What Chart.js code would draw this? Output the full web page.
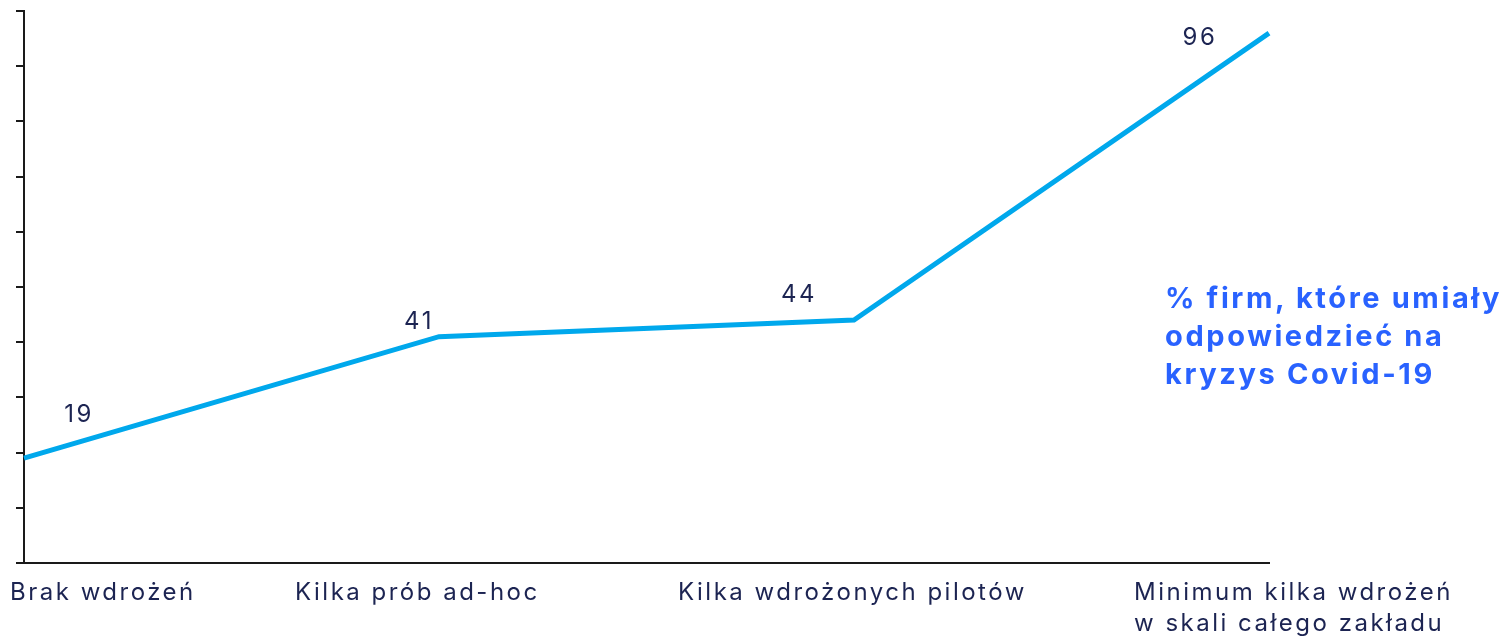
<!DOCTYPE html>
<html>
<head>
<meta charset="utf-8">
<script src="https://cdn.jsdelivr.net/npm/chart.js@4/dist/chart.umd.min.js"></script>
<style>
  body { margin: 0; background: #fff; }
  #wrap { position: relative; width: 1508px; height: 638px; }
  #note {
    position: absolute; left: 1165px; top: 279px;
    font: bold 29px Inter, "DejaVu Sans", sans-serif; line-height: 38px;
    letter-spacing: 2.6px;
    color: #2962ff; white-space: nowrap;
  }
</style>
</head>
<body>
<div id="wrap">
  <canvas id="chart" width="1508" height="638"></canvas>
  <div id="note">% firm, które umiały<br>odpowiedzieć na<br>kryzys Covid-19</div>
</div>
<script>
// dane
const categories = [
  ['Brak wdrożeń'],
  ['Kilka prób ad-hoc'],
  ['Kilka wdrożonych pilotów'],
  ['Minimum kilka wdrożeń', 'w skali całego zakładu']
];
const values = [19, 41, 44, 96];
const yMin = 0, yMax = 100, yStep = 10;

// przesunięcia etykiet (layout, nie dane)
const valueShift = [[54, -43], [-21, -15], [-56, -25], [-70, 5]];
const labelShift = [-14, -144, -176, -135];

const textColor = '#1c2452';
const axisColor = '#1a1a1a';

const annotate = {
  id: 'annotate',
  afterDatasetsDraw(chart) {
    const ctx = chart.ctx;
    const xs = chart.scales.x;
    const pts = chart.getDatasetMeta(0).data;
    ctx.save();
    ctx.fillStyle = textColor;
    ctx.font = '24px Inter, "DejaVu Sans", sans-serif';
    ctx.letterSpacing = '2.5px';
    ctx.textAlign = 'center';
    ctx.textBaseline = 'middle';
    values.forEach((v, i) => {
      ctx.fillText(String(v), pts[i].x + valueShift[i][0] + 1, pts[i].y + valueShift[i][1]);
    });
    ctx.textAlign = 'left';
    ctx.textBaseline = 'alphabetic';
    categories.forEach((lines, i) => {
      const x = xs.getPixelForValue(i) + labelShift[i];
      lines.forEach((t, j) => ctx.fillText(t, x, xs.top + 37 + j * 31));
    });
    ctx.restore();
  }
};

new Chart(document.getElementById('chart'), {
  type: 'line',
  data: {
    labels: categories.map(c => c.join(' ')),
    datasets: [{
      data: values,
      borderColor: '#00a8ec',
      borderWidth: 5,
      pointRadius: 0,
      tension: 0,
      fill: false
    }]
  },
  options: {
    responsive: false,
    animation: false,
    layout: { padding: { top: 11, right: 239, left: 0, bottom: 0 } },
    plugins: { legend: { display: false }, tooltip: { enabled: false } },
    scales: {
      x: {
        offset: false,
        ticks: { display: false },
        grid: { drawOnChartArea: false, drawTicks: false },
        border: { display: true, color: axisColor, width: 2 },
        afterFit(scale) { scale.height = 75; }
      },
      y: {
        min: yMin,
        max: yMax,
        ticks: { display: false, stepSize: yStep },
        grid: { drawOnChartArea: false, drawTicks: true, tickLength: 8, color: axisColor, lineWidth: 2 },
        border: { display: true, color: axisColor, width: 2 },
        afterFit(scale) { scale.width = 24; }
      }
    }
  },
  plugins: [annotate]
});
</script>
</body>
</html>
